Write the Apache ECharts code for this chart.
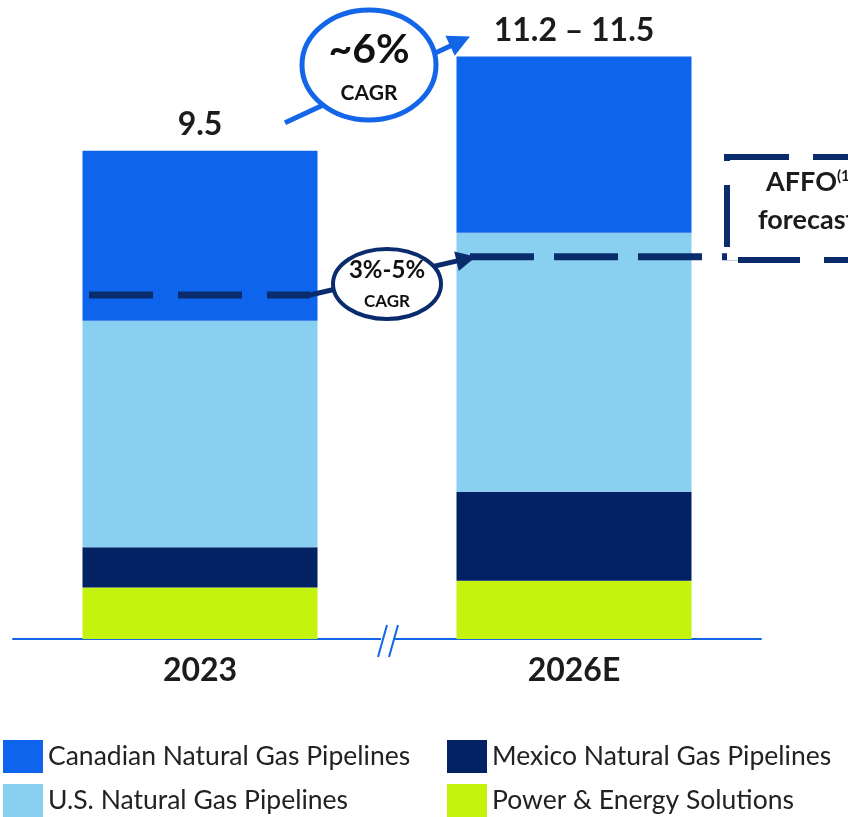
<!DOCTYPE html>
<html>
<head>
<meta charset="utf-8">
<script src="https://cdn.jsdelivr.net/npm/echarts@6/dist/echarts.min.js"></script>
<style>
  html, body { margin: 0; padding: 0; background: #fff; }
  #chart { width: 848px; height: 817px; }
</style>
</head>
<body>
<div id="chart"></div>
<script>
// ---- data ----
const categories = ['2023', '2026E'];
const canadian = [3.30, 3.42];
const usPipes = [4.40, 5.03];
const mexico = [0.78, 1.73];
const power = [1.00, 1.13];
const totalLabels = ['9.5', '11.2 – 11.5'];
const affo = [6.68, 7.42];

const FONT = 'Lato, "Open Sans", sans-serif';
const NAVY = '#0a2c6c';
const BLUE = '#1466e8';

const chart = echarts.init(document.getElementById('chart'));

function barSeries(name, data, color, extra) {
  return Object.assign({
    name: name,
    type: 'bar',
    stack: 'total',
    barWidth: 235,
    data: data,
    itemStyle: { color: color },
    emphasis: { disabled: true },
    silent: true
  }, extra || {});
}

const legendText = { fontFamily: FONT, fontSize: 26.5, color: '#222' };
const legendBase = {
  orient: 'vertical', top: 740, padding: 0,
  itemWidth: 40, itemHeight: 33, itemGap: 11,
  textStyle: legendText, icon: 'rect', selectedMode: false
};

chart.setOption({
  backgroundColor: '#fff',
  animation: false,
  grid: { left: 13, right: 87, top: 21, bottom: 178 },
  xAxis: {
    type: 'category',
    data: categories,
    axisLine: { lineStyle: { color: BLUE, width: 2 } },
    axisTick: { show: false },
    axisLabel: { fontFamily: FONT, fontSize: 32, fontWeight: 'bold', color: '#1c1c1c', margin: 16 }
  },
  yAxis: { type: 'value', min: 0, max: 12, show: false },
  legend: [
    Object.assign({ data: ['Canadian Natural Gas Pipelines', 'U.S. Natural Gas Pipelines'], left: 3 }, legendBase),
    Object.assign({ data: ['Mexico Natural Gas Pipelines', 'Power & Energy Solutions'], left: 447 }, legendBase)
  ],
  series: [
    barSeries('Power & Energy Solutions', power, '#c4f30e'),
    barSeries('Mexico Natural Gas Pipelines', mexico, '#022264'),
    barSeries('U.S. Natural Gas Pipelines', usPipes, '#89cfef'),
    barSeries('Canadian Natural Gas Pipelines', canadian, '#0e64ec', {
      label: {
        show: true,
        position: 'top',
        distance: 10,
        fontFamily: FONT,
        fontSize: 32,
        fontWeight: 'bold',
        color: '#1c1c1c',
        formatter: p => totalLabels[p.dataIndex]
      }
    })
  ]
});

// ---- annotations (positions derived from the axes) ----
function px(i, v) { return chart.convertToPixel({ gridIndex: 0 }, [i, v]); }

function arrowHead(x1, y1, x2, y2, len, half, color) {
  const a = Math.atan2(y2 - y1, x2 - x1);
  const bx = x2 - len * Math.cos(a), by = y2 - len * Math.sin(a);
  return {
    type: 'polygon', z: 20,
    shape: { points: [
      [x2, y2],
      [bx + half * Math.sin(a), by - half * Math.cos(a)],
      [bx - half * Math.sin(a), by + half * Math.cos(a)]
    ] },
    style: { fill: color }
  };
}

const c0 = px(0, 0)[0], c1 = px(1, 0)[0];
const baseY = px(0, 0)[1];
const top0 = px(0, canadian[0] + usPipes[0] + mexico[0] + power[0])[1];
const top1 = px(1, canadian[1] + usPipes[1] + mexico[1] + power[1])[1];
const ya0 = px(0, affo[0])[1];
const ya1 = px(1, affo[1])[1];
const midX = (c0 + c1) / 2;

// ~6% CAGR arrow
const g1s = [c0 + 85, top0 - 28], g1e = [c1 - 104, top1 - 20];
// 3%-5% arrow
const g2s = [c0 + 110, ya0], g2e = [c1 - 100, ya1];

const graphics = [
  // axis break
  { type: 'rect', z: 10, shape: { x: midX - 6, y: baseY - 3, width: 12, height: 6 }, style: { fill: '#fff' } },
  { type: 'line', z: 11, shape: { x1: midX, y1: baseY - 14, x2: midX - 9, y2: baseY + 18 }, style: { stroke: BLUE, lineWidth: 2 } },
  { type: 'line', z: 11, shape: { x1: midX + 11, y1: baseY - 14, x2: midX + 2, y2: baseY + 18 }, style: { stroke: BLUE, lineWidth: 2 } },

  // AFFO dashed lines
  { type: 'line', z: 15, shape: { x1: c0 - 111, y1: ya0, x2: c0 + 110, y2: ya0 }, style: { stroke: NAVY, lineWidth: 7, lineDash: [64, 25] } },
  { type: 'line', z: 15, shape: { x1: c1 - 104, y1: ya1, x2: c1 + 165, y2: ya1 }, style: { stroke: NAVY, lineWidth: 7, lineDash: [64, 20] } },

  // AFFO box
  { type: 'rect', z: 15, shape: { x: 727, y: 157, width: 200, height: 103 }, style: { fill: '#fff', stroke: NAVY, lineWidth: 6, lineDash: [62, 24] } },
  { type: 'text', z: 16, style: {
      x: 766, y: 196, text: '{a|AFFO}{s|(1)}', textVerticalAlign: 'bottom',
      rich: { a: { fontFamily: FONT, fontSize: 27, fontWeight: 'bold', fill: '#1c1c1c' },
              s: { fontFamily: FONT, fontSize: 15, fontWeight: 'bold', fill: '#1c1c1c', verticalAlign: 'top', padding: [0, 0, 12, 0] } }
  } },
  { type: 'text', z: 16, style: { x: 758, y: 234, text: 'forecast', textVerticalAlign: 'bottom', fontFamily: FONT, fontSize: 27, fontWeight: 'bold', fill: '#1c1c1c' } },

  // 3%-5% arrow + ellipse
  { type: 'line', z: 17, shape: { x1: g2s[0], y1: g2s[1], x2: g2e[0] - 8, y2: g2e[1] + 2 }, style: { stroke: NAVY, lineWidth: 5 } },
  arrowHead(g2s[0], g2s[1], g2e[0] + 2, g2e[1], 20, 10, NAVY),
  { type: 'ellipse', z: 18, shape: { cx: 387, cy: 284, rx: 54, ry: 35 }, style: { fill: '#fff', stroke: NAVY, lineWidth: 4 } },
  { type: 'text', z: 19, style: { x: 387, y: 270, text: '3%-5%', textAlign: 'center', textVerticalAlign: 'middle', fontFamily: FONT, fontSize: 24, fontWeight: 'bold', fill: '#111' } },
  { type: 'text', z: 19, style: { x: 387, y: 302, text: 'CAGR', textAlign: 'center', textVerticalAlign: 'middle', fontFamily: FONT, fontSize: 17, fontWeight: 'bold', fill: '#111' } },

  // ~6% arrow + ellipse
  { type: 'line', z: 17, shape: { x1: g1s[0], y1: g1s[1], x2: g1e[0] - 10, y2: g1e[1] + 5 }, style: { stroke: BLUE, lineWidth: 5 } },
  arrowHead(g1s[0], g1s[1], g1e[0], g1e[1], 22, 11, BLUE),
  { type: 'ellipse', z: 18, shape: { cx: 369, cy: 65, rx: 67, ry: 55 }, style: { fill: '#fff', stroke: BLUE, lineWidth: 5 } },
  { type: 'text', z: 19, style: { x: 369, y: 50, text: '~6%', textAlign: 'center', textVerticalAlign: 'middle', fontFamily: FONT, fontSize: 41, fontWeight: 'bold', fill: '#111' } },
  { type: 'text', z: 19, style: { x: 369, y: 93, text: 'CAGR', textAlign: 'center', textVerticalAlign: 'middle', fontFamily: FONT, fontSize: 21, fontWeight: 'bold', fill: '#111' } }
];

chart.setOption({ graphic: graphics });
</script>
</body>
</html>
